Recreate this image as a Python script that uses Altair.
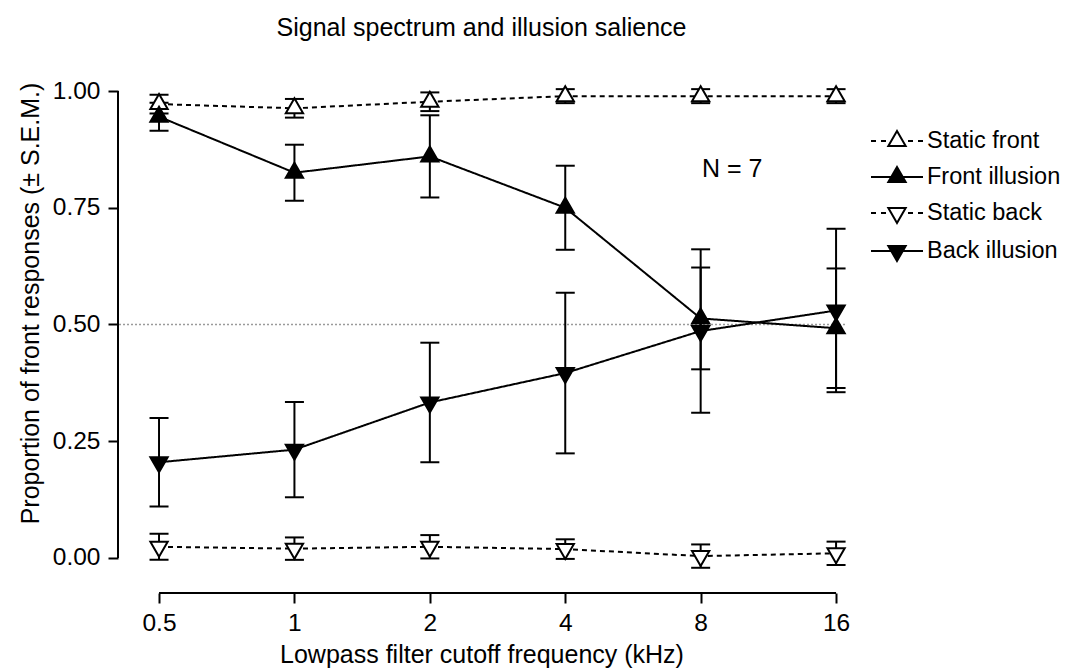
import altair as alt
import pandas as pd

FONT = "Liberation Sans"

FREQS = [0.5, 1, 2, 4, 8, 16]
SERIES = ["Static front", "Front illusion", "Static back", "Back illusion"]
SERIES_CODES = ["sf", "fi", "sb", "bi"]

STATIC_FRONT_MEAN = [0.972, 0.963, 0.977, 0.989, 0.989, 0.989]
STATIC_FRONT_SEM = [0.020, 0.020, 0.020, 0.015, 0.015, 0.015]
FRONT_ILLUSION_MEAN = [0.945, 0.825, 0.860, 0.750, 0.513, 0.492]
FRONT_ILLUSION_SEM = [0.030, 0.060, 0.088, 0.090, 0.109, 0.128]
STATIC_BACK_MEAN = [0.024, 0.020, 0.024, 0.019, 0.004, 0.010]
STATIC_BACK_SEM = [0.028, 0.024, 0.025, 0.021, 0.025, 0.025]
BACK_ILLUSION_MEAN = [0.205, 0.232, 0.333, 0.396, 0.486, 0.530]
BACK_ILLUSION_SEM = [0.095, 0.102, 0.128, 0.172, 0.175, 0.175]

Y_TICKS = [0.0, 0.25, 0.5, 0.75, 1.0]
CHANCE_LEVEL = 0.5
ANNOT_TEXT = "N = 7"
ANNOT_FREQ = 9.4
ANNOT_Y = 0.816

# scale extents (plot region wider than the data, as in R)
X_MIN = 0.5 / 2 ** 0.303
X_MAX = 16 * 2 ** 0.066
Y_MIN = -0.075
Y_MAX = 1.03

series_means = [STATIC_FRONT_MEAN, FRONT_ILLUSION_MEAN, STATIC_BACK_MEAN, BACK_ILLUSION_MEAN]
series_sems = [STATIC_FRONT_SEM, FRONT_ILLUSION_SEM, STATIC_BACK_SEM, BACK_ILLUSION_SEM]
rows = []
for name, code, means, sems in zip(SERIES, SERIES_CODES, series_means, series_sems):
    for f, m, e in zip(FREQS, means, sems):
        rows.append({"freq": f, "series": name, "code": code, "mean": m, "sem": e})
df = pd.DataFrame(rows)

x_scale = alt.Scale(type="log", base=2, domain=[X_MIN, X_MAX], nice=False)
y_scale = alt.Scale(domain=[Y_MIN, Y_MAX], nice=False, zero=False)

x_axis = alt.Axis(
    values=FREQS, format="~g", title="Lowpass filter cutoff frequency (kHz)",
    domain=False, grid=False, tickSize=10, tickWidth=2, tickColor="black",
    labelFont=FONT, labelFontSize=24.5, labelColor="black", labelPadding=8,
    labelFlush=False, labelOverlap=False,
    titleFont=FONT, titleFontSize=25, titleFontWeight="normal", titleColor="black",
    titleY=69, titleBaseline="alphabetic",
)
y_axis = alt.Axis(
    values=Y_TICKS, format=".2f", title="Proportion of front responses (± S.E.M.)",
    domain=False, grid=False, tickSize=10, tickWidth=2, tickColor="black",
    labelFont=FONT, labelFontSize=24.5, labelColor="black", labelPadding=8,
    labelFlush=False, labelOverlap=False,
    titleFont=FONT, titleFontSize=25, titleFontWeight="normal", titleColor="black",
    titleX=-80, titleY=226, titleAngle=270, titleBaseline="alphabetic", titleAlign="center",
)


def X(field):
    return alt.X(field, type="quantitative", scale=x_scale, axis=x_axis)


def Y(field):
    return alt.Y(field, type="quantitative", scale=y_scale, axis=y_axis)


def up_path(r, hw):
    return f"M0,{-r:.4f}L{hw:.4f},{r/2:.4f}L{-hw:.4f},{r/2:.4f}Z"


def down_path(r, hw):
    return f"M0,{r:.4f}L{hw:.4f},{-r/2:.4f}L{-hw:.4f},{-r/2:.4f}Z"


UP = up_path(1, 0.866)
DOWN = down_path(1, 0.866)

# legend symbols: line segment + triangle (built in pixels, converted to symbol units)
LEG_SYMBOL_SIZE = 1024
U = (LEG_SYMBOL_SIZE ** 0.5) / 2  # pixels per path unit
HALF = 26 / U
TRI_R, TRI_HW = 10 / U, 8.66 / U
DASH_SEGS = [(-26, -21), (-16, -11), (11, 16), (21, 26)]
DASHES = "".join(f"M{a / U:.4f},0H{b / U:.4f}" for a, b in DASH_SEGS)
SOLID = f"M{-HALF:.4f},0H{HALF:.4f}"
LEG_SF = DASHES + up_path(TRI_R, TRI_HW)
LEG_FI = SOLID + up_path(TRI_R, TRI_HW)
LEG_SB = DASHES + down_path(TRI_R, TRI_HW)
LEG_BI = SOLID + down_path(TRI_R, TRI_HW)
shape_expr = (
    f"datum.value === 'Static front' ? '{LEG_SF}' : "
    f"datum.value === 'Front illusion' ? '{LEG_FI}' : "
    f"datum.value === 'Static back' ? '{LEG_SB}' : '{LEG_BI}'"
)
fill_expr = "(datum.value === 'Static front' || datum.value === 'Static back') ? 'white' : 'black'"

base = alt.Chart(df).transform_calculate(
    lo="datum.mean - datum.sem", hi="datum.mean + datum.sem"
)

chance = alt.Chart(pd.DataFrame({"y": [CHANCE_LEVEL]})).mark_rule(
    color="#9a9a9a", strokeDash=[2, 2], strokeWidth=1.5
).encode(y=Y("y"))

x_line = alt.Chart(pd.DataFrame({"x": [FREQS[0]], "x2": [FREQS[-1]], "y": [Y_MIN]})).mark_rule(
    color="black", strokeWidth=2
).encode(x=X("x"), x2="x2", y=Y("y"))

y_line = alt.Chart(pd.DataFrame({"x": [X_MIN], "y": [Y_TICKS[0]], "y2": [Y_TICKS[-1]]})).mark_rule(
    color="black", strokeWidth=2
).encode(x=X("x"), y=Y("y"), y2="y2")

err = base.mark_rule(color="black", strokeWidth=2).encode(x=X("freq"), y=Y("lo:Q"), y2="hi:Q")
cap_lo = base.mark_tick(color="black", thickness=2, size=19, orient="horizontal", opacity=1).encode(
    x=X("freq"), y=Y("lo:Q")
)
cap_hi = base.mark_tick(color="black", thickness=2, size=19, orient="horizontal", opacity=1).encode(
    x=X("freq"), y=Y("hi:Q")
)

lines = base.mark_line(strokeWidth=2).encode(
    x=X("freq"),
    y=Y("mean"),
    strokeDash=alt.StrokeDash(
        "code:N",
        scale=alt.Scale(domain=SERIES_CODES, range=[[5, 4], [1, 0], [5, 4], [1, 0]]),
        legend=None,
    ),
    color=alt.Color(
        "series:N",
        scale=alt.Scale(domain=SERIES, range=["black", "black", "black", "black"]),
        legend=alt.Legend(
            title=None, orient="none", legendX=762, legendY=47, padding=0,
            symbolSize=LEG_SYMBOL_SIZE, symbolStrokeWidth=2, symbolStrokeColor="black",
            symbolType={"expr": shape_expr},
            symbolFillColor={"expr": fill_expr},
            symbolOpacity=1,
            labelFont=FONT, labelFontSize=23.5, labelColor="black", labelOffset=13,
            rowPadding=7,
        ),
    ),
)

points = base.mark_point(filled=True, size=400, stroke="black", strokeWidth=2, opacity=1).encode(
    x=X("freq"),
    y=Y("mean"),
    shape=alt.Shape("code:N", scale=alt.Scale(domain=SERIES_CODES, range=[UP, UP, DOWN, DOWN]), legend=None),
    fill=alt.Fill("code:N", scale=alt.Scale(domain=SERIES_CODES, range=["white", "black", "white", "black"]), legend=None),
)

annot = alt.Chart(pd.DataFrame({"x": [ANNOT_FREQ], "y": [ANNOT_Y], "t": [ANNOT_TEXT]})).mark_text(
    font=FONT, fontSize=25, color="black", align="center", baseline="alphabetic"
).encode(x=X("x"), y=Y("y"), text="t:N")

chart = alt.layer(chance, x_line, y_line, err, cap_lo, cap_hi, lines, points, annot).properties(
    width=727,
    height=516,
    background="white",
    title=alt.TitleParams(
        "Signal spectrum and illusion salience", font=FONT, fontSize=25, fontWeight="normal",
        color="black", anchor="middle", frame="group", offset=16, baseline="alphabetic",
    ),
    autosize=alt.AutoSizeParams(type="none"),
    padding={"left": 110, "top": 69, "right": 221, "bottom": 75},
).configure_view(stroke=None)

chart.save("out.html", embed_options={"renderer": "svg", "actions": False})
